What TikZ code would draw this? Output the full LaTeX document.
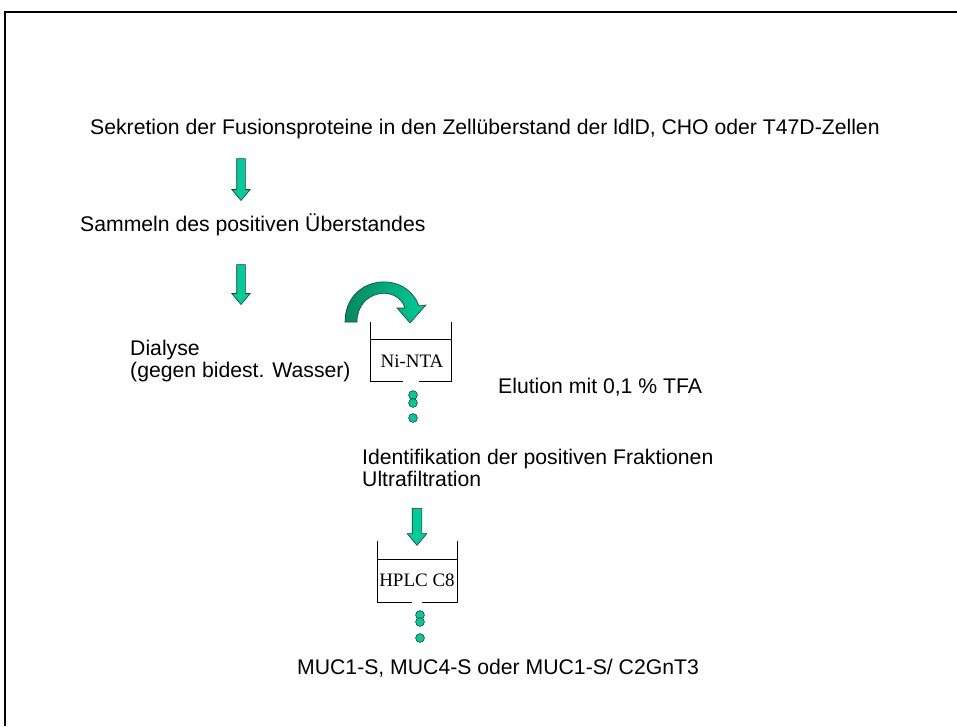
\documentclass[tikz,border=0pt]{standalone}
\usepackage{fontspec}
\setmainfont{Liberation Sans}
\newfontfamily\boxfont{Liberation Serif}
\usetikzlibrary{shapes.arrows}
\definecolor{flowgreen}{HTML}{00CC99}
\definecolor{flowdark}{HTML}{008A5E}
\definecolor{edgegray}{HTML}{2A3A33}

\begin{document}
\begin{tikzpicture}[
      x=1pt, y=-1pt,
      every node/.style={font=\fontsize{21.2}{25}\selectfont, inner sep=0pt},
      steptext/.style={anchor=base west},
      downarrow/.style={shape=single arrow, draw=edgegray, line width=0.6pt,
                        fill=flowgreen, rotate=-90, inner xsep=0pt, inner ysep=4pt,
                        single arrow head extend=5pt, single arrow tip angle=80},
      column/.style={line width=0.8pt},
      label/.style={font=\boxfont\fontsize{19}{21}\selectfont},
      drop/.style={draw=edgegray, line width=0.6pt, fill=flowgreen},
    ]
    \useasboundingbox (0,0) rectangle (957,726);
    \fill[white] (0,0) rectangle (957,726);
    \draw[line width=2pt] (5,726) -- (5,12) -- (957,12);

    % steps of the purification
    \node[steptext] (sekr)  at (90,134)  {Sekretion der Fusionsproteine in den Zellüberstand der ldlD, CHO oder T47D-Zellen};
    \node[steptext] (samm)  at (80,231)  {Sammeln des positiven Überstandes};
    \node[steptext] (dial)  at (130,355) {Dialyse};
    \node[steptext] (wass)  at (130,377) {(gegen bidest. Wasser)};
    \node[steptext] (elut)  at (498,393) {Elution mit 0,1 \% TFA};
    \node[steptext] (ident) at (362,464) {Identifikation der positiven Fraktionen};
    \node[steptext] (ultra) at (362,486) {Ultrafiltration};
    \node[steptext] (muc)   at (297,674) {MUC1-S, MUC4-S oder MUC1-S/ C2GnT3};

    \node[downarrow, minimum height=42pt] (a1) at (241,177) {};
    \node[downarrow, minimum height=40pt] (a2) at (241,282) {};
    \node[downarrow, minimum height=37pt, inner ysep=4.5pt,
          single arrow head extend=5pt] (a3) at (417,524) {};

    % Ni-NTA column
    \draw[column] (370,322) -- (370,381) -- (403,381);
    \draw[column] (419,381) -- (451,381) -- (451,322);
    \draw[column] (370,339) -- (451,339);
    \node[label] (nita) at (412,361) {Ni-NTA};
    \foreach \y in {395,403,418}
      \draw[drop] (413,\y) circle (4.4);

    % curved arrow onto the column
    \shade[left color=flowdark, right color=flowgreen, draw=edgegray, line width=0.6pt]
      (345,322) .. controls (345,276) and (405,268) .. (419,306)
      -- (426,305) -- (410,323) -- (397,308) -- (405,308)
      .. controls (397,284) and (357,290) .. (357,322) -- cycle;

    % HPLC column
    \draw[column] (377,541) -- (377,602) -- (412,602);
    \draw[column] (422,602) -- (457,602) -- (457,541);
    \draw[column] (377,559) -- (457,559);
    \node[label] (hplc) at (417,580) {HPLC C8};
    \foreach \y in {615,622,638}
      \draw[drop] (420,\y) circle (4.4);
  \end{tikzpicture}
\end{document}
